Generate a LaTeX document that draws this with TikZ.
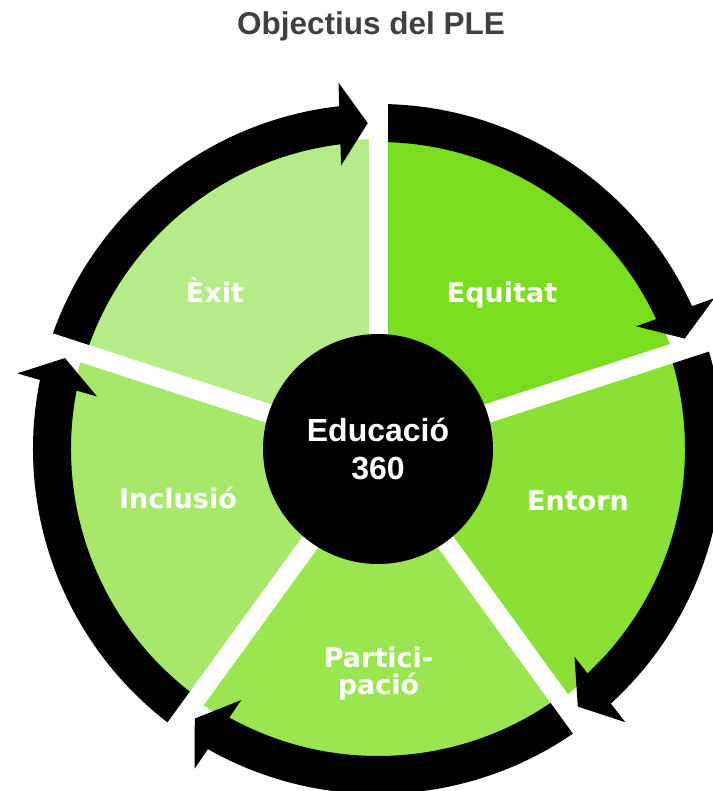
\documentclass[tikz,border=0pt]{standalone}
\usepackage{fontspec}
\setmainfont{Liberation Sans}
\newfontfamily\labelfont{DejaVu Sans}
\definecolor{cEquitat}{HTML}{7ADD20}
\definecolor{cEntorn}{HTML}{8AE035}
\definecolor{cParticipacio}{HTML}{9BE650}
\definecolor{cInclusio}{HTML}{A7E86B}
\definecolor{cExit}{HTML}{B6EC88}
\definecolor{cTitle}{HTML}{404040}
\begin{document}
\begin{tikzpicture}[x=1pt,y=1pt,
  seglabel/.style={text=white,font=\labelfont\bfseries\fontsize{27}{27}\selectfont,inner sep=0pt},
  band/.style={line width=38pt},
  divider/.style={white,line width=19pt},
  headtri/.style={fill=black}]
\useasboundingbox (-378,-342) rectangle (334,449);
% title
\node[text=cTitle,font=\bfseries\fontsize{31.5}{36}\selectfont,anchor=base,inner sep=0pt] (title) at (-7,414) {Objectius del PLE};
% sectors
\fill[cEquitat] (0,0) -- (90:310pt) arc[start angle=90,end angle=18,radius=310pt] -- cycle;
\fill[cEntorn] (0,0) -- (18:310pt) arc[start angle=18,end angle=-54,radius=310pt] -- cycle;
\fill[cParticipacio] (0,0) -- (-54:310pt) arc[start angle=-54,end angle=-126,radius=310pt] -- cycle;
\fill[cInclusio] (0,0) -- (-126:310pt) arc[start angle=-126,end angle=-198,radius=310pt] -- cycle;
\fill[cExit] (0,0) -- (162:310pt) arc[start angle=162,end angle=90,radius=310pt] -- cycle;
% arrow bands
\foreach \d in {90,18,-54,-126,162}{
  \pgfmathsetmacro{\sa}{\d+1}
  \pgfmathsetmacro{\ea}{\d-66.2}
  \draw[band] (\sa:326pt) arc[start angle=\sa,end angle=\ea,radius=326pt];
}
% dividers
\foreach \d in {90,18,-54,-126,162}{
  \draw[divider] (0,0) -- (\d:385pt);
}
% arrow heads
\foreach \t in {19.8,-52.2,-124.2,163.8,91.8}{
  \fill[headtri,rotate=\t] (326,0) -- (367.5,28) -- (284.5,28) -- cycle;
}
% hub
\node[circle,fill=black,minimum size=230pt,inner sep=0pt,text=white,align=center,
  font=\bfseries\fontsize{32}{38}\selectfont] (hub) at (0,0) {Educació\\360};
% labels
\node[seglabel,anchor=base] (equitat) at (124,146) {Equitat};
\node[seglabel,anchor=base] (entorn) at (200,-62) {Entorn};
\node[seglabel,anchor=base] (inclusio) at (-200,-60) {Inclusió};
\node[seglabel,anchor=base] (exit) at (-163,146) {Èxit};
\node[seglabel,align=center] (participacio) at (0.5,-225) {Partici-\\pació};
\end{tikzpicture}
\end{document}
